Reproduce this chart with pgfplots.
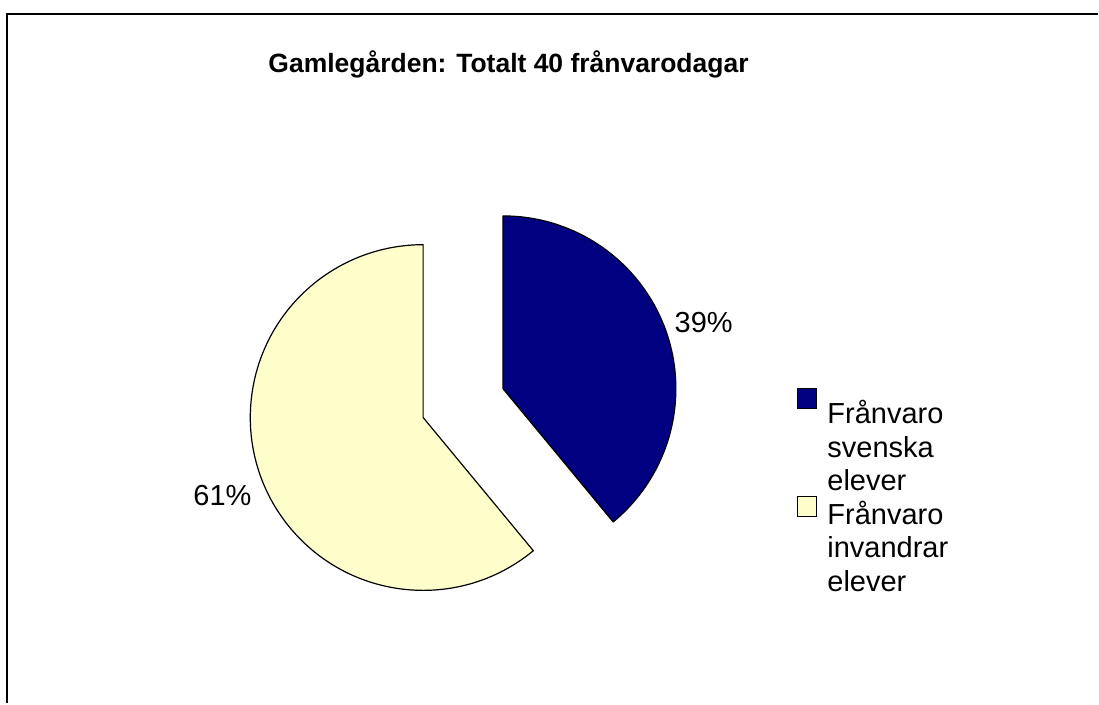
\documentclass[border=0pt]{standalone}
\usepackage{pgfplots}
\pgfplotsset{compat=1.18}
\usepackage{pgfplotstable}
\usepackage{fontspec}
\setmainfont{Liberation Sans}
\definecolor{svblue}{RGB}{0,0,128}
\definecolor{invyellow}{RGB}{255,255,204}

% share of absence days (%)
\pgfplotstableread{
andel
39
61
}\franvaro

\newcommand{\legfont}{\fontsize{29}{33.6}\selectfont}

\begin{document}
\begin{tikzpicture}
\pgfplotstablegetelem{0}{andel}\of\franvaro \let\aSv\pgfplotsretval
\pgfplotstablegetelem{1}{andel}\of\franvaro \let\aInv\pgfplotsretval
\pgfmathsetmacro{\sumA}{\aSv+\aInv}
\pgfmathsetmacro{\endSv}{90-3.6*(100*\aSv/\sumA)}
\pgfmathsetmacro{\endInv}{\endSv-3.6*(100*\aInv/\sumA)}
\pgfmathsetmacro{\midSv}{(90+\endSv)/2}
\pgfmathsetmacro{\midInv}{(\endSv+\endInv)/2}
% pie centre, radius, explode offset, label distance (px, y downwards)
\def\pcx{463.5}\def\pcy{403.5}\def\pieR{173}\def\pieEx{42.5}\def\pieLab{256}
\pgfmathsetmacro{\svx}{\pcx+\pieEx*cos(\midSv)}
\pgfmathsetmacro{\svy}{\pcy-\pieEx*sin(\midSv)}
\pgfmathsetmacro{\inx}{\pcx+\pieEx*cos(\midInv)}
\pgfmathsetmacro{\iny}{\pcy-\pieEx*sin(\midInv)}
\pgfmathsetmacro{\lsvx}{\pcx+\pieLab*cos(\midSv)}
\pgfmathsetmacro{\lsvy}{\pcy-\pieLab*sin(\midSv)+6}
\pgfmathsetmacro{\linx}{\pcx+\pieLab*cos(\midInv)}
\pgfmathsetmacro{\liny}{\pcy-\pieLab*sin(\midInv)+6}
\begin{axis}[
    at={(0,0)}, anchor=south west,
    width=1099pt, height=704pt, scale only axis,
    xmin=0, xmax=1099, ymin=0, ymax=704,
    y dir=reverse,
    hide axis, clip=false
]
\path (axis cs:0,0) rectangle (axis cs:1099,704);
% frame (only top and left edge visible)
\draw[line width=2pt] (axis cs:7,704) -- (axis cs:7,14) -- (axis cs:1099,14);

\node[anchor=base, inner sep=0, font=\bfseries\fontsize{26.5}{30}\selectfont]
    at (axis cs:509,73) {Gamlegården: Totalt 40 frånvarodagar};

% slices
\filldraw[fill=svblue, draw=black, line width=1.2pt, line join=round]
    (axis cs:\svx,\svy) -- ++(90:\pieR pt)
    arc[start angle=90, end angle=\endSv, radius=\pieR pt] -- cycle;
\filldraw[fill=invyellow, draw=black, line width=1.2pt, line join=round]
    (axis cs:\inx,\iny) -- ++(\endSv:\pieR pt)
    arc[start angle=\endSv, end angle=\endInv, radius=\pieR pt] -- cycle;

% data labels
\node[font=\legfont, inner sep=0] at (axis cs:\lsvx,\lsvy) {\aSv\%};
\node[font=\legfont, inner sep=0] at (axis cs:\linx,\liny) {\aInv\%};

% legend
\filldraw[fill=svblue, draw=black, line width=1.2pt] (axis cs:798,389) rectangle (axis cs:817,409);
\filldraw[fill=invyellow, draw=black, line width=1.2pt] (axis cs:798,497) rectangle (axis cs:817,517);
\node[anchor=base west, inner sep=0, font=\legfont] at (axis cs:828,424) {Frånvaro};
\node[anchor=base west, inner sep=0, font=\legfont] at (axis cs:828,457.6) {svenska};
\node[anchor=base west, inner sep=0, font=\legfont] at (axis cs:828,491.2) {elever};
\node[anchor=base west, inner sep=0, font=\legfont] at (axis cs:828,524.8) {Frånvaro};
\node[anchor=base west, inner sep=0, font=\legfont] at (axis cs:828,558.4) {invandrar};
\node[anchor=base west, inner sep=0, font=\legfont] at (axis cs:828,592) {elever};
\end{axis}
\end{tikzpicture}
\end{document}
